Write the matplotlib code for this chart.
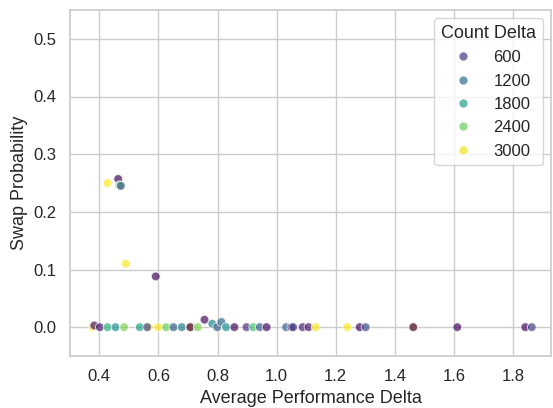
import matplotlib
matplotlib.use("Agg")
import matplotlib.pyplot as plt
import seaborn as sns
import numpy as np
from matplotlib.lines import Line2D
from matplotlib.colors import Normalize

sns.set_theme(style="whitegrid")
plt.rcParams['font.family'] = ['Arial', 'Liberation Sans', 'DejaVu Sans']

# Data
avg_perf_delta = [0.428, 0.464, 0.468, 0.473, 0.490, 0.591,
                  0.377, 0.383, 0.402, 0.428, 0.455, 0.484, 0.537, 0.568, 0.562,
                  0.600, 0.626, 0.651, 0.679, 0.708, 0.708, 0.733, 0.756, 0.782,
                  0.799, 0.813, 0.829, 0.857, 0.898, 0.921, 0.943, 0.966, 1.032,
                  1.050, 1.056, 1.088, 1.108, 1.132, 1.239, 1.281, 1.301, 1.462,
                  1.462, 1.611, 1.841, 1.863]
swap_prob = [0.250, 0.257, 0.246, 0.245, 0.110, 0.088,
             0.0, 0.003, 0.0, 0.0, 0.0, 0.0, 0.0, 0.0, 0.0,
             0.0, 0.0, 0.0, 0.0, 0.0, 0.0, 0.0, 0.013, 0.006,
             0.0, 0.009, 0.0, 0.0, 0.0, 0.0, 0.0, 0.0, 0.0,
             0.0, 0.0, 0.0, 0.0, 0.0, 0.0, 0.0, 0.0, 0.0,
             0.0, 0.0, 0.0, 0.0]
count_delta = [3100, 150, 2400, 900, 3100, 150,
               3100, 300, 300, 2000, 1600, 2500, 1800, 3100, 700,
               3100, 2400, 1000, 1400, 3000, 100, 2500, 200, 1500,
               1000, 1100, 1600, 200, 500, 2200, 1000, 200, 1000,
               300, 700, 400, 300, 3100, 3100, 150, 800, 3100,
               150, 150, 150, 700]
legend_levels = [600, 1200, 1800, 2400, 3000]

fig = plt.figure(figsize=(5.53, 4.08), dpi=100)
ax = fig.add_axes([70/553, 1 - 356/408, (551 - 70)/553, (356 - 10)/408])

cmap = plt.get_cmap("viridis")
norm = Normalize(vmin=min(count_delta), vmax=max(count_delta))

ax.scatter(avg_perf_delta, swap_prob, c=count_delta, cmap=cmap, norm=norm,
           s=40, alpha=0.7, edgecolors="white", linewidths=0.75, zorder=3)

ax.set_xlim(0.301, 1.928)
ax.set_ylim(-0.05, 0.55)
ax.set_xticks([0.4, 0.6, 0.8, 1.0, 1.2, 1.4, 1.6, 1.8])
ax.set_yticks([0.0, 0.1, 0.2, 0.3, 0.4, 0.5])
ax.tick_params(labelsize=12)
ax.set_xlabel("Average Performance Delta", fontsize=13)
ax.set_ylabel("Swap Probability", fontsize=13)

handles = [Line2D([], [], linestyle="", marker="o", markersize=6.5,
                  markerfacecolor=cmap(norm(v)), markeredgecolor="white",
                  markeredgewidth=0.75, alpha=0.7) for v in legend_levels]
leg = ax.legend(handles, [str(v) for v in legend_levels], title="Count Delta",
                loc="upper right", fontsize=12, title_fontsize=13)

fig.savefig("out.png", dpi=100)
